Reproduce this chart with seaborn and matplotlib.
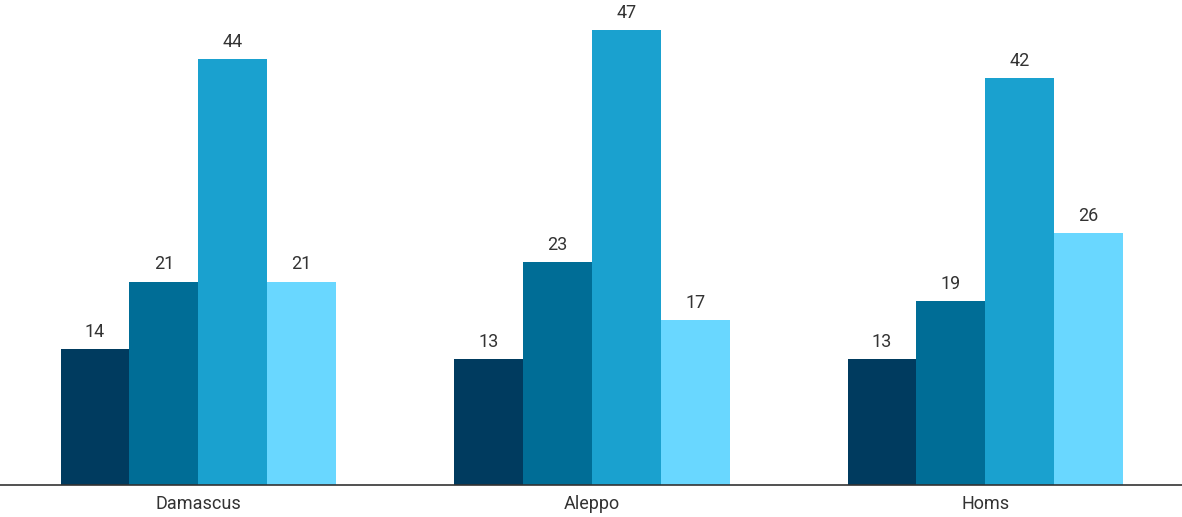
import matplotlib
matplotlib.use("Agg")
import matplotlib.pyplot as plt
import seaborn as sns
import pandas as pd

cities = ["Damascus", "Aleppo", "Homs"]
series_names = ["Series 1", "Series 2", "Series 3", "Series 4"]
s1 = [14, 13, 13]
s2 = [21, 23, 19]
s3 = [44, 47, 42]
s4 = [21, 17, 26]
colors = ["#003b5f", "#006d96", "#1aa1cf", "#69d7ff"]

rows = []
for name, vals in zip(series_names, [s1, s2, s3, s4]):
    for c, v in zip(cities, vals):
        rows.append({"city": c, "series": name, "value": v})
df = pd.DataFrame(rows)

sns.set_theme(style="white")
plt.rcParams["font.family"] = ["Roboto", "DejaVu Sans"]

fig = plt.figure(figsize=(11.82, 5.17), dpi=100)
ax = fig.add_axes([0.0, 32 / 517, 1.0, 485 / 517])
sns.barplot(data=df, x="city", y="value", hue="series", order=cities,
            hue_order=series_names, palette=colors, width=0.7,
            saturation=1, legend=False, ax=ax, linewidth=0)

for cont in ax.containers:
    ax.bar_label(cont, fmt="%d", padding=6, fontsize=13, color="#333333")

ax.set_xlim(-0.504, 2.5)
ax.set_ylim(0, 50.1)
ax.set_xlabel("")
ax.set_ylabel("")
ax.set_yticks([])
for s in ["top", "right", "left"]:
    ax.spines[s].set_visible(False)
ax.spines["bottom"].set_color("#333333")
ax.spines["bottom"].set_linewidth(1.2)
ax.tick_params(axis="x", length=0, labelsize=13, labelcolor="#333333", pad=7)

fig.savefig("out.png", dpi=100)
